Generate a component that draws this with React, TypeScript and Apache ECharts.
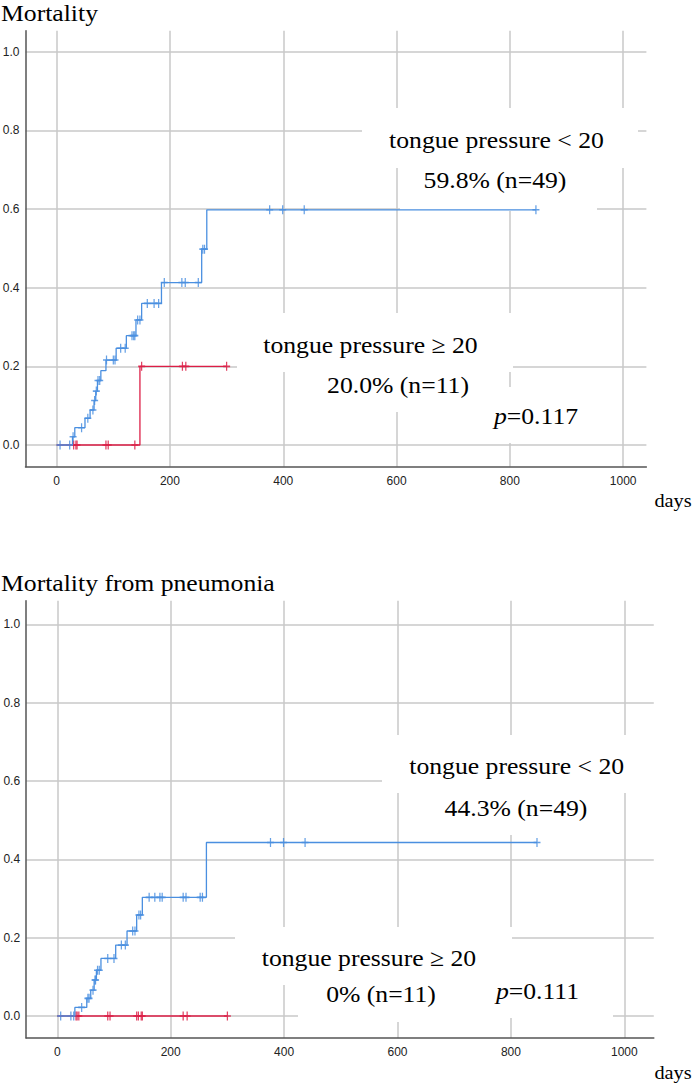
import { useEffect, useRef } from 'react';
import * as echarts from 'echarts';

// axis ticks
const dayTicks = [0, 200, 400, 600, 800, 1000];
const rateTicks = [0, 0.2, 0.4, 0.6, 0.8, 1.0];

// Mortality, tongue pressure < 20 (n=49): event times and cumulative mortality after each event
const mortLowTimes = [0, 28, 32, 50, 59, 66, 69, 72, 78, 87, 105, 123, 140, 150, 185, 256, 265];
const mortLowRates = [0, 0.021, 0.044, 0.068, 0.089, 0.113, 0.137, 0.164, 0.189, 0.216, 0.246, 0.278, 0.318, 0.36, 0.413, 0.498, 0.598];
const mortLowCensor = [6, 23, 29, 44, 55, 64, 67, 70, 73, 76, 88, 100, 103, 113, 121, 133, 136, 138, 143, 147, 160, 172, 180, 190, 221, 227, 250, 258, 261, 376, 399, 437, 846];
const mortLowEnd = 846;

// Mortality, tongue pressure >= 20 (n=11)
const mortHighTimes = [0, 147];
const mortHighRates = [0, 0.2];
const mortHighCensor = [30, 34, 36, 87, 91, 138, 150, 222, 228, 300];
const mortHighEnd = 300;

// Mortality from pneumonia, tongue pressure < 20
const pneuLowTimes = [0, 31, 52, 59, 65, 69, 77, 103, 123, 140, 150, 263];
const pneuLowRates = [0, 0.022, 0.045, 0.066, 0.092, 0.117, 0.147, 0.181, 0.217, 0.258, 0.303, 0.443];
const pneuLowCensor = [6, 24, 29, 43, 54, 56, 63, 66.5, 67.5, 71, 74, 89, 100, 113, 120, 133, 137, 144, 147, 162, 172, 181, 185, 222, 227, 252, 256, 376, 399, 437, 846];
const pneuLowEnd = 846;

// Mortality from pneumonia, tongue pressure >= 20
const pneuHighTimes = [0];
const pneuHighRates = [0];
const pneuHighCensor = [33, 35, 38, 89, 93, 140, 143, 148, 150, 222, 229, 300];
const pneuHighEnd = 300;

const BLUE = '#4a8fe0';
const RED = '#dc1e46';
const SERIF = 'Liberation Serif';
const SANS = 'Liberation Sans';

function stepValue(times: number[], rates: number[], t: number) {
    let v = rates[0];
    for (let i = 0; i < times.length; i++) {
        if (times[i] <= t) v = rates[i];
    }
    return v;
}

function curve(times: number[], rates: number[], end: number) {
    const pts = times.map((t, i) => [t, rates[i]]);
    pts.push([end, rates[rates.length - 1]]);
    return pts;
}

function kmSeries(idx: number, times: number[], rates: number[], censor: number[], end: number, color: string) {
    return [
        {
            type: 'line' as const,
            xAxisIndex: idx,
            yAxisIndex: idx,
            step: 'end' as const,
            showSymbol: false,
            silent: true,
            data: curve(times, rates, end),
            lineStyle: { color, width: 1.3 },
        },
        {
            type: 'scatter' as const,
            xAxisIndex: idx,
            yAxisIndex: idx,
            silent: true,
            symbol: 'path://M0,4.5 L8,4.5 M4,0 L4,9',
            symbolSize: [7, 9],
            data: censor.map((t) => [t, stepValue(times, rates, t)]),
            itemStyle: { color: 'none', borderColor: color, borderWidth: 1.4, opacity: 0.85 },
        },
    ];
}

function xAxis(idx: number, max: number) {
    return {
        type: 'value' as const,
        gridIndex: idx,
        min: -55,
        max,
        axisLine: { show: true, onZero: false, lineStyle: { color: '#555', width: 1.5 } },
        axisTick: { show: false, customValues: dayTicks },
        axisLabel: {
            customValues: dayTicks,
            fontSize: 12,
            color: '#222',
            fontFamily: SANS,
            margin: 8,
            formatter: (v: number) => String(v),
        },
        splitLine: { show: true, lineStyle: { color: '#c9c9c9', width: 1.5 } },
    };
}

function yAxis(idx: number, min: number, max: number) {
    return {
        type: 'value' as const,
        gridIndex: idx,
        min,
        max,
        axisLine: { show: true, onZero: false, lineStyle: { color: '#555', width: 1.5 } },
        axisTick: { show: false, customValues: rateTicks },
        axisLabel: {
            customValues: rateTicks,
            fontSize: 12,
            color: '#222',
            fontFamily: SANS,
            margin: 6,
            formatter: (v: number) => v.toFixed(1),
        },
        splitLine: { show: true, lineStyle: { color: '#c9c9c9', width: 1.5 } },
    };
}

function label(text: string, x: number, y: number, size = 24, align = 'center') {
    return {
        type: 'text',
        x,
        y,
        z: 10,
        scaleX: 1.07,
        style: {
            text,
            fill: '#000',
            fontFamily: SERIF,
            fontSize: size,
            align,
            verticalAlign: 'middle',
            rich: { i: { fontStyle: 'italic', fontSize: size, fontFamily: SERIF } },
        },
    };
}

function box(x: number, y: number, width: number, height: number) {
    return { type: 'rect', z: 1, shape: { x, y, width, height }, style: { fill: '#fff' } };
}

export default function App() {
    const ref = useRef<HTMLDivElement>(null);

    useEffect(() => {
        if (!ref.current) return;
        const chart = echarts.init(ref.current, null, { renderer: 'svg' });

        chart.setOption({
            animation: false,
            backgroundColor: '#fff',
            grid: [
                { left: 25.5, top: 30.7, width: 620.9, height: 436, show: false, outerBoundsMode: 'none' },
                { left: 26.1, top: 600.7, width: 627.7, height: 437.3, show: false, outerBoundsMode: 'none' },
            ],
            xAxis: [xAxis(0, 1041), xAxis(1, 1052)],
            yAxis: [yAxis(0, -0.0552, 1.0534), yAxis(1, -0.0562, 1.0605)],
            series: [
                ...kmSeries(0, mortHighTimes, mortHighRates, mortHighCensor, mortHighEnd, RED),
                ...kmSeries(0, mortLowTimes, mortLowRates, mortLowCensor, mortLowEnd, BLUE),
                ...kmSeries(1, pneuHighTimes, pneuHighRates, pneuHighCensor, pneuHighEnd, RED),
                ...kmSeries(1, pneuLowTimes, pneuLowRates, pneuLowCensor, pneuLowEnd, BLUE),
            ],
            graphic: [
                // white text boxes that hide the grid behind the notes
                box(362, 108, 276, 60),
                box(400, 168, 197, 43),
                box(237, 313, 276, 59),
                box(300, 372, 185, 40),
                box(485, 387, 105, 56),
                box(382, 735, 278, 58),
                box(420, 793, 185, 42),
                box(235, 927, 277, 58),
                box(298, 985, 175, 37),
                box(473, 960, 140, 58),
                // titles
                label('Mortality', 1, 12.7, 24, 'left'),
                label('Mortality from pneumonia', 1, 582.7, 24, 'left'),
                // top panel notes
                label('tongue pressure < 20', 496.5, 140),
                label('59.8% (n=49)', 495, 179.5),
                label('tongue pressure \u2265 20', 370.5, 345),
                label('20.0% (n=11)', 398, 384.5),
                label('{i|p}=0.117', 536, 416),
                label('days', 673, 500, 19),
                // bottom panel notes
                label('tongue pressure < 20', 516.7, 766),
                label('44.3% (n=49)', 516, 808),
                label('tongue pressure \u2265 20', 369, 958),
                label('0% (n=11)', 381, 993.5),
                label('{i|p}=0.111', 537.5, 991),
                label('days', 673, 1072, 19),
            ],
        });

        return () => {
            chart.dispose();
        };
    }, []);

    return (
        <div
            ref={ref}
            style={{ position: 'absolute', left: 0, top: 0, width: '693px', height: '1085px' }}
        />
    );
}
